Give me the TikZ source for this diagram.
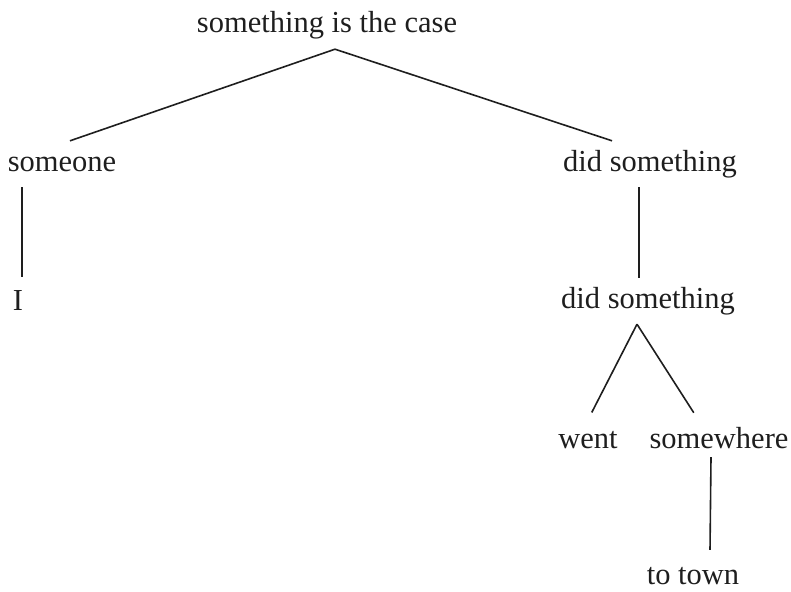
\documentclass[tikz,border=0pt]{standalone}
\usepackage{fontspec}
\setmainfont{Liberation Serif}
\usepackage{tikz}
\usetikzlibrary{positioning}
\usepackage{xcolor}
\definecolor{inkgray}{RGB}{30,30,30}
\tikzstyle{word} = [inner xsep=0pt, inner ysep=9pt, text height=21pt, text depth=7pt, anchor=base, text=inkgray, font=\fontsize{30.5pt}{36pt}\selectfont]
\tikzstyle{branch} = [line width=1.6pt, color=inkgray]

\begin{document}
\begin{tikzpicture}[x=1pt, y=-1pt]
\useasboundingbox (0,0) rectangle (791,591);
% Root node
\node[word] (root) at (327,33) {something is the case};

% First level
\node[word] (someone) at (62,171) {someone};
\node[word] (did1) at (650,171) {did something};

% Second level
\node[word] (I) at (18,310) {I};
\node[word] (did2) at (648,308) {did something};

% Third level
\node[word] (went) at (588,448) {went};
\node[word] (somewhere) at (719,448) {somewhere};

% Fourth level
\node[word, text depth=2pt] (town) at (693,584) {to town};

% Branches from root
\draw[branch] ([xshift=8pt]root.south) -- ([xshift=8pt]someone.north);
\draw[branch] ([xshift=8pt]root.south) -- ([xshift=-38pt]did1.north);

% Single branches
\draw[branch] ([xshift=-40pt]someone.south) -- ([xshift=4pt,yshift=3pt]I.north);
\draw[branch] ([xshift=-11pt]did1.south) -- ([xshift=-9pt]did2.north);

% Split under did something
\draw[branch, shorten >=6pt] ([xshift=-11pt]did2.south) -- ([xshift=1pt]went.north);
\draw[branch, shorten >=6pt] ([xshift=-11pt]did2.south) -- ([xshift=-22pt]somewhere.north);

% Last branch
\draw[branch] ([xshift=-8pt,yshift=7pt]somewhere.south) -- ([xshift=17pt,yshift=4pt]town.north);
\end{tikzpicture}
\end{document}
